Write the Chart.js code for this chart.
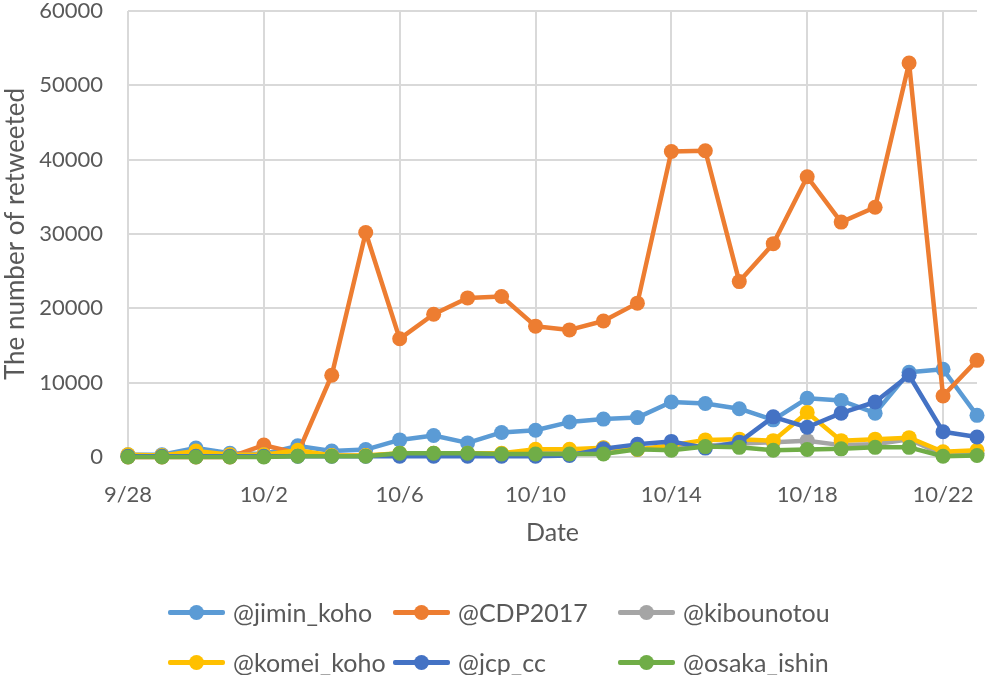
<!DOCTYPE html>
<html>
<head>
<meta charset="utf-8">
<script src="https://cdn.jsdelivr.net/npm/chart.js@4.4.1/dist/chart.umd.min.js"></script>
<style>
  body { margin: 0; background: #fff; }
  #wrap { position: relative; width: 986px; height: 675px; }
  #legend { position: absolute; left: 0; top: 0; font-family: Lato, sans-serif; font-size: 25px; color: #595959; }
  .item { position: absolute; height: 30px; display: flex; align-items: center; white-space: nowrap; }
  .mk { position: relative; width: 57px; height: 5px; border-radius: 2px; margin-right: 8px; }
  .mk span { position: absolute; left: 21px; top: -5px; width: 15px; height: 15px; border-radius: 50%; }
</style>
</head>
<body>
<div id="wrap">
  <canvas id="chart" width="986" height="675"></canvas>
  <div id="legend"></div>
</div>
<script>
const dates = ['9/28', '9/29', '9/30', '10/1', '10/2', '10/3', '10/4', '10/5', '10/6', '10/7', '10/8', '10/9', '10/10',
  '10/11', '10/12', '10/13', '10/14', '10/15', '10/16', '10/17', '10/18', '10/19', '10/20', '10/21', '10/22', '10/23'];

const jiminKoho = [300, 300, 1200, 500, 400, 1500, 800, 1000, 2300, 2900, 1900, 3300, 3600,
  4700, 5100, 5300, 7400, 7200, 6500, 5000, 7900, 7600, 5900, 11400, 11800, 5600];
const cdp2017 = [0, 0, 0, 0, 1600, 500, 11000, 30200, 15900, 19200, 21400, 21600, 17600,
  17100, 18300, 20700, 41100, 41200, 23600, 28700, 37700, 31600, 33600, 53000, 8200, 13000];
const kibounotou = [200, 200, 400, 300, 300, 400, 200, 200, 400, 400, 400, 400, 600,
  800, 1200, 1000, 1200, 1500, 1800, 2000, 2200, 1600, 1700, 2400, 300, 500];
const komeiKoho = [300, 200, 800, 300, 300, 900, 200, 200, 500, 500, 500, 500, 1050,
  1050, 1250, 1000, 1600, 2300, 2400, 2200, 6000, 2200, 2400, 2600, 700, 900];
const jcpCc = [100, 100, 100, 100, 100, 100, 100, 100, 100, 100, 100, 100, 100,
  200, 1100, 1700, 2100, 1200, 2000, 5400, 4000, 5900, 7400, 11000, 3400, 2700];
const osakaIshin = [0, 0, 0, 0, 0, 100, 100, 100, 500, 500, 500, 400, 400,
  400, 400, 1050, 900, 1400, 1300, 900, 1000, 1100, 1300, 1300, 100, 200];

const seriesNames = ['@jimin_koho', '@CDP2017', '@kibounotou', '@komei_koho', '@jcp_cc', '@osaka_ishin'];
const seriesData = [jiminKoho, cdp2017, kibounotou, komeiKoho, jcpCc, osakaIshin];
const seriesColors = ['#5B9BD5', '#ED7D31', '#A5A5A5', '#FFC000', '#4472C4', '#70AD47'];

const textColor = '#595959';
const gridColor = '#d9d9d9';
const font = 'Lato, sans-serif';

// later series drawn on top, like the original
const datasets = seriesNames.map((name, i) => ({
  label: name,
  data: seriesData[i],
  borderColor: seriesColors[i],
  backgroundColor: seriesColors[i],
  borderWidth: 4.5,
  borderJoinStyle: 'round',
  borderCapStyle: 'round',
  pointRadius: 7.5,
  pointBorderWidth: 0,
  tension: 0,
  clip: false,
  order: seriesNames.length - i
}));

new Chart(document.getElementById('chart'), {
  type: 'line',
  data: { labels: dates, datasets },
  options: {
    responsive: false,
    animation: false,
    layout: { padding: { top: 0, right: 9, bottom: 118, left: 0 } },
    plugins: { legend: { display: false }, tooltip: { enabled: false } },
    scales: {
      x: {
        offset: false,
        grid: {
          color: (ctx) => (ctx.index % 4 === 0 ? gridColor : 'rgba(0,0,0,0)'),
          lineWidth: 2,
          drawTicks: false
        },
        border: { display: false },
        ticks: {
          autoSkip: false,
          maxRotation: 0,
          padding: 25,
          color: textColor,
          font: { family: font, size: 22 },
          callback: function (val, idx) { return idx % 4 === 0 ? this.getLabelForValue(val) : ''; }
        },
        title: {
          display: true,
          text: 'Date',
          color: textColor,
          font: { family: font, size: 25 },
          padding: { top: 0, bottom: 9 }
        },
        afterFit: (scale) => {
          scale.height = 100;
          scale.paddingLeft = 0;
          scale.paddingRight = 0;
        }
      },
      y: {
        min: 0,
        max: 60000,
        grid: { color: gridColor, lineWidth: 2, drawTicks: false },
        border: { display: false },
        ticks: {
          stepSize: 10000,
          padding: 25,
          color: textColor,
          font: { family: font, size: 22 },
          callback: (v) => String(v)
        },
        title: {
          display: true,
          text: 'The number of retweeted',
          color: textColor,
          font: { family: font, size: 26 },
          padding: { top: 0, bottom: 0 }
        },
        afterFit: (scale) => {
          scale.width = 128;
          scale.paddingTop = 11;
          scale.paddingBottom = 0;
        }
      }
    }
  }
});

// legend laid out in three columns, two rows
const legendCols = [168, 393, 618];
const legendRows = [612, 662];
const legendEl = document.getElementById('legend');
seriesNames.forEach((name, i) => {
  const item = document.createElement('div');
  item.className = 'item';
  item.style.left = legendCols[i % 3] + 'px';
  item.style.top = (legendRows[Math.floor(i / 3)] - 15) + 'px';
  item.innerHTML = '<div class="mk" style="background:' + seriesColors[i] + '"><span style="background:' +
    seriesColors[i] + '"></span></div>' + name;
  legendEl.appendChild(item);
});
</script>
</body>
</html>
